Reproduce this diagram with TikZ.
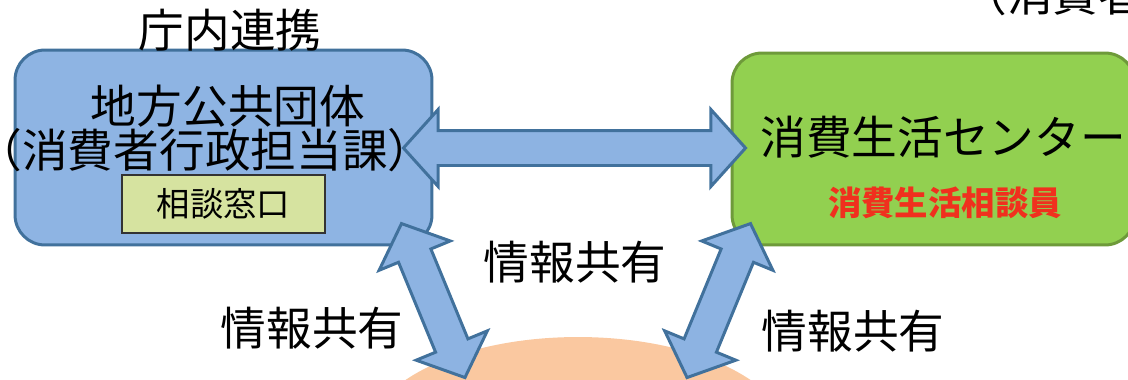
\documentclass[tikz,border=0pt]{standalone}
\usepackage{fontspec}
\setmainfont{Noto Sans CJK JP}
\usetikzlibrary{shapes.arrows,shapes.geometric,calc,positioning}
\definecolor{boxblue}{HTML}{8EB4E3}
\definecolor{lineblue}{HTML}{41719C}
\definecolor{arrowblue}{HTML}{8DB3E2}
\definecolor{boxgreen}{HTML}{92D050}
\definecolor{linegreen}{HTML}{6E9A3A}
\definecolor{deskgreen}{HTML}{D6E3A0}
\definecolor{talkred}{HTML}{F0301E}
\definecolor{peach}{HTML}{FAC8A0}
\begin{document}
\begin{tikzpicture}[x=0.02cm,y=-0.02cm,
  bigtext/.style={inner sep=0,font=\fontsize{26}{30}\selectfont},
  smalltext/.style={inner sep=0,font=\fontsize{19}{22}\selectfont},
  orgbox/.style={rounded corners=0.6cm,line width=1.7pt},
  sharearrow/.style={double arrow,draw=lineblue,fill=arrowblue,line width=1.7pt,
    inner xsep=0,inner ysep=0.32cm,minimum width=1.48cm,double arrow head extend=0.42cm,
    double arrow tip angle=96}
]
  \useasboundingbox (0,0) rectangle (1128,379);
  \clip (0,0) rectangle (1128,379);

  \node[ellipse,fill=peach,minimum width=8.4cm,minimum height=4cm] (pref) at (578,437) {};

  \node[orgbox,draw=lineblue,fill=boxblue,minimum width=8.34cm,minimum height=3.9cm] (govt) at (223.5,147.5) {};
  \node[orgbox,draw=linegreen,fill=boxgreen,minimum width=8.06cm,minimum height=3.84cm] (center) at (933.5,149) {};

  \node[bigtext] (renkei) at (230,30) {庁内連携};
  \node[bigtext] (govtname) at (228,106) {地方公共団体};
  \node[bigtext] (section) at (205,150) {（消費者行政担当課）};
  \node[draw=black!80,line width=1pt,fill=deskgreen,minimum width=4.06cm,minimum height=1.16cm] (desk) at (223.5,204) {};
  \node[smalltext] (deskname) at (desk) {相談窓口};

  \node[bigtext,anchor=west] (centername) at (760,137) {消費生活センター};
  \node[smalltext,text=talkred,font=\fontsize{19}{22}\selectfont\bfseries] (advisor) at (945,203) {消費生活相談員};
  \node[bigtext,anchor=west] (agency) at (961,-6) {（消費者};

  \node[bigtext] (infomid) at (575,262) {情報共有};
  \node[bigtext] (infoleft) at (312,328) {情報共有};
  \node[bigtext] (inforight) at (853,331) {情報共有};

  \coordinate (h1) at ($(govt.east)+(-30,0.5)$);
  \coordinate (h2) at ($(center.west)+(15,-1)$);
  \coordinate (l1) at ($(govt.south east)+(-32,-23)$);
  \coordinate (l2) at ($(pref.north)+(-113,41)$);
  \coordinate (r1) at ($(center.south west)+(20,-23)$);
  \coordinate (r2) at ($(pref.north)+(109,41)$);

  \foreach \a/\b in {h1/h2,l1/l2,r1/r2}
    \path let \p1=($(\b)-(\a)$), \n1={veclen(\x1,\y1)} in
      (\a) -- (\b) node[midway,sloped,sharearrow,minimum height=\n1] {};
\end{tikzpicture}
\end{document}
